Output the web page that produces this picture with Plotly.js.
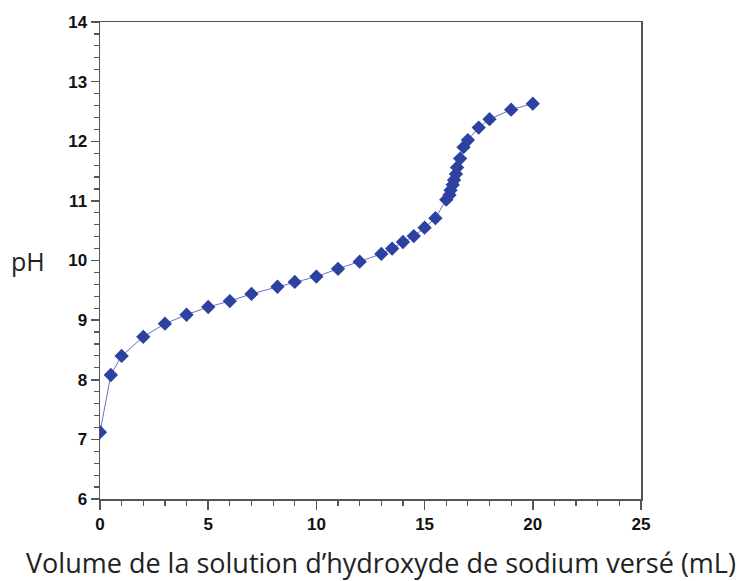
<!DOCTYPE html>
<html>
<head>
<meta charset="utf-8">
<script src="https://cdn.plot.ly/plotly-3.0.1.min.js"></script>
<style>html,body{margin:0;padding:0;background:#fff;}#chart{width:747px;height:581px;}</style>
</head>
<body>
<div id="chart"></div>
<script>
var volume = [0, 0.5, 1, 2, 3, 4, 5, 6, 7, 8.2, 9, 10, 11, 12, 13, 13.5, 14, 14.5, 15, 15.5, 16, 16.15, 16.2, 16.3, 16.36, 16.45, 16.5, 16.64, 16.8, 17, 17.5, 18, 19, 20];
var pH = [7.12, 8.08, 8.40, 8.72, 8.94, 9.09, 9.22, 9.32, 9.44, 9.56, 9.64, 9.73, 9.86, 9.98, 10.11, 10.20, 10.31, 10.41, 10.55, 10.71, 11.02, 11.10, 11.18, 11.27, 11.35, 11.45, 11.56, 11.71, 11.90, 12.02, 12.23, 12.37, 12.53, 12.63];
var xTickVals = [0, 5, 10, 15, 20, 25];
var yTickVals = [6, 7, 8, 9, 10, 11, 12, 13, 14];
var xTitle = "Volume de la solution d’hydroxyde de sodium versé (mL)";
var yTitle = "pH";

var trace = {
  x: volume, y: pH, type: 'scatter', mode: 'lines+markers',
  line: {color: '#6f6fc4', width: 1},
  marker: {symbol: 'diamond', size: 11, color: '#2c41a0', line: {width: 0}},
  hoverinfo: 'x+y'
};
var tickFont = {family: 'Liberation Sans, Arial, sans-serif', size: 17, color: '#111', weight: 700};
var layout = {
  width: 747, height: 581,
  margin: {l: 100, r: 106, t: 22, b: 82},
  paper_bgcolor: '#fff', plot_bgcolor: '#fff',
  showlegend: false,
  xaxis: {
    range: [0, 25], tickvals: xTickVals, ticktext: xTickVals.map(function(v){return '<b>' + v + '</b>';}),
    ticks: 'outside', ticklen: 9, tickwidth: 1.5, tickcolor: '#555',
    minor: {dtick: 1, ticks: 'outside', ticklen: 5, tickwidth: 1.2, tickcolor: '#555', showgrid: false},
    showline: true, mirror: true, linecolor: '#555', linewidth: 1.5,
    showgrid: false, zeroline: false, tickfont: tickFont
  },
  yaxis: {
    range: [6, 14], tickvals: yTickVals, ticktext: yTickVals.map(function(v){return '<b>' + v + '</b>';}),
    ticks: 'outside', ticklen: 8, tickwidth: 1.5, tickcolor: '#555',
    minor: {dtick: 0.2, ticks: 'outside', ticklen: 5, tickwidth: 1.2, tickcolor: '#555', showgrid: false},
    showline: true, mirror: true, linecolor: '#555', linewidth: 1.5,
    showgrid: false, zeroline: false, tickfont: tickFont
  },
  annotations: [
    {text: yTitle, xref: 'paper', yref: 'paper', x: -0.133, y: 0.5, xanchor: 'center', yanchor: 'middle', showarrow: false,
     font: {family: 'Open Sans, sans-serif', size: 25, color: '#222'}},
    {text: xTitle, xref: 'paper', yref: 'paper', x: 0.519, y: -0.134, xanchor: 'center', yanchor: 'middle', showarrow: false,
     font: {family: 'Open Sans, sans-serif', size: 27, color: '#222'}}
  ]
};
Plotly.newPlot('chart', [trace], layout, {displayModeBar: false, staticPlot: true});
</script>
</body>
</html>
